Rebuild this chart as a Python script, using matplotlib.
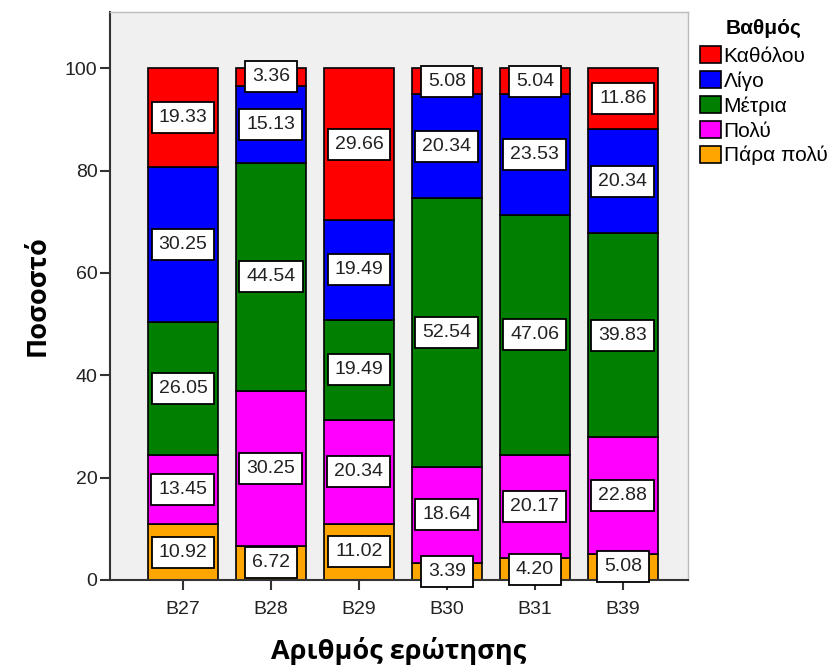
import numpy as np
import matplotlib.pyplot as plt
from matplotlib.patches import Patch

plt.rcParams['font.family'] = ['Liberation Sans', 'DejaVu Sans']

questions = ['B27', 'B28', 'B29', 'B30', 'B31', 'B39']
levels = ['Καθόλου', 'Λίγο', 'Μέτρια', 'Πολύ', 'Πάρα πολύ']
colors = ['#ff0000', '#0000ff', '#007f00', '#ff00ff', '#ffa500']

# percentages per level, stacked from the bottom (Πάρα πολύ) to the top (Καθόλου)
para_poly = [10.92, 6.72, 11.02, 3.39, 4.20, 5.08]
poly = [13.45, 30.25, 20.34, 18.64, 20.17, 22.88]
metria = [26.05, 44.54, 19.49, 52.54, 47.06, 39.83]
ligo = [30.25, 15.13, 19.49, 20.34, 23.53, 20.34]
katholou = [19.33, 3.36, 29.66, 5.08, 5.04, 11.86]

stack = [para_poly, poly, metria, ligo, katholou]
stack_colors = colors[::-1]

fig = plt.figure(figsize=(8.39, 6.72), dpi=100)
ax = fig.add_axes([0.131, 0.137, 0.689, 0.845])
ax.set_facecolor('#f0f0f0')

x = np.arange(len(questions))
bottom = np.zeros(len(questions))
for vals, col in zip(stack, stack_colors):
    vals = np.array(vals)
    ax.bar(x, vals, width=0.795, bottom=bottom, color=col,
           edgecolor='black', linewidth=1.2, zorder=2)
    for xi, b, v in zip(x, bottom, vals):
        ax.text(xi, b + v / 2, f'{v:.2f}', ha='center', va='center',
                fontsize=14, color='#222222', zorder=4,
                bbox=dict(boxstyle='square,pad=0.36', facecolor='white',
                          edgecolor='black', linewidth=1.3))
    bottom += vals

ax.set_xlim(-0.83, 5.74)
ax.set_ylim(0, 111)
ax.set_yticks([0, 20, 40, 60, 80, 100])
ax.set_xticks(x)
ax.set_xticklabels(questions)
ax.tick_params(axis='both', labelsize=14, length=7, width=1.5, color='#333333',
               labelcolor='#222222')
ax.tick_params(axis='x', pad=8)
ax.tick_params(axis='y', pad=2)

for side in ['left', 'bottom']:
    ax.spines[side].set_linewidth(1.5)
    ax.spines[side].set_color('#333333')
for side in ['top', 'right']:
    ax.spines[side].set_linewidth(1)
    ax.spines[side].set_color('#bbbbbb')

label_font = {'family': ['Open Sans', 'DejaVu Sans'], 'weight': 'bold', 'size': 19.5}
ax.set_ylabel('Ποσοστό', fontdict=label_font, labelpad=10)
ax.set_xlabel('Αριθμός ερώτησης', fontdict=label_font, labelpad=14)

handles = [Patch(facecolor=c, edgecolor='black', linewidth=1.2) for c in colors]
leg = fig.legend(handles, levels, loc='upper left', bbox_to_anchor=(0.834, 0.972),
                 title='Βαθμός', frameon=False, fontsize=15,
                 title_fontproperties={'weight': 'bold', 'size': 15},
                 handlelength=1.0, handleheight=0.9, handletextpad=0.15,
                 labelspacing=0.24, borderpad=0.0, borderaxespad=0)
leg._legend_box.align = 'center'
leg._legend_box.sep = 6

fig.savefig('out.png', dpi=100)
